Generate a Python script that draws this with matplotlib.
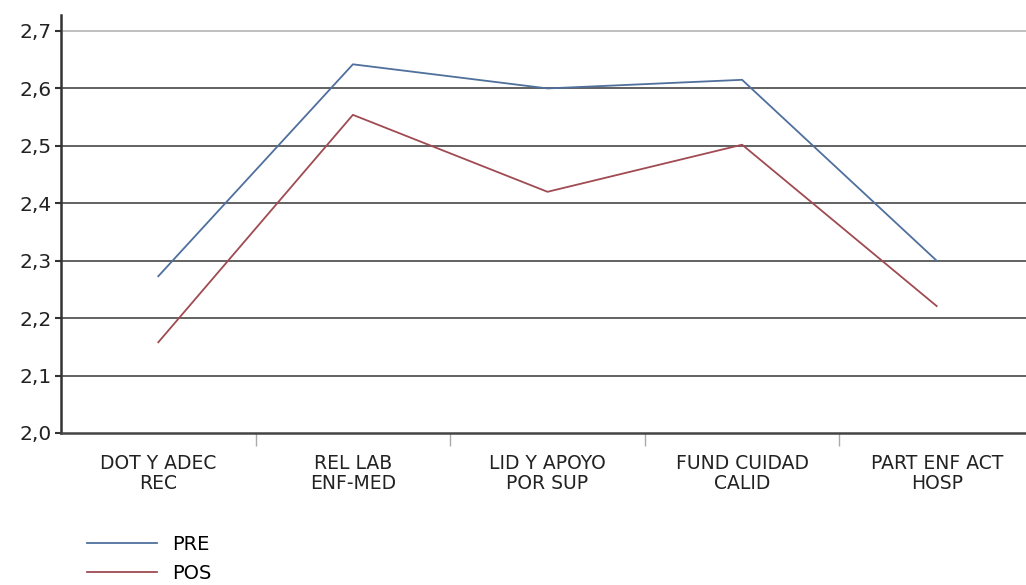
import numpy as np
import matplotlib.pyplot as plt

categorias = ["DOT Y ADEC\nREC", "REL LAB\nENF-MED", "LID Y APOYO\nPOR SUP",
              "FUND CUIDAD\nCALID", "PART ENF ACT\nHOSP"]
pre = [2.273, 2.642, 2.600, 2.615, 2.300]
pos = [2.158, 2.554, 2.420, 2.502, 2.221]
yticks = [2.0, 2.1, 2.2, 2.3, 2.4, 2.5, 2.6, 2.7]

plt.rcParams['font.family'] = ['DejaVu Sans']

fig = plt.figure(figsize=(10.26, 5.85), dpi=100)
ax = fig.add_axes([61/1026, 1-433/585, (1034-61)/1026, (433-15)/585])

x = np.arange(len(categorias))
ax.plot(x, pre, color='#4f6f9c', lw=1.3, label='PRE', zorder=3)
ax.plot(x, pos, color='#a04a52', lw=1.3, label='POS', zorder=3)

ax.set_xlim(-0.5, len(categorias) - 0.5)
ax.set_ylim(2.0, 2.0 + 0.7 * 418 / 402)
ax.set_yticks(yticks)
ax.set_yticklabels([f"{v:.1f}".replace('.', ',') for v in yticks], fontsize=14.5, color='#222222')
for v in yticks[1:]:
    ax.axhline(v, color='#bbbbbb' if v == 2.7 else '#555555', lw=1.3, zorder=1)

ax.set_xticks(x)
ax.set_xticklabels(categorias, fontsize=13.5, color='#222222', linespacing=1.05)
ax.set_xticks(np.arange(0.5, len(categorias) - 0.5), minor=True)
ax.tick_params(axis='x', which='major', length=0, pad=15)
ax.tick_params(axis='x', which='minor', length=9, color='#aaaaaa', width=1, direction='out')
ax.tick_params(axis='y', length=4, width=1.5, color='#333333', pad=3)

for s in ['top', 'right']:
    ax.spines[s].set_visible(False)
ax.spines['left'].set_color('#333333')
ax.spines['left'].set_linewidth(1.8)
ax.spines['bottom'].set_color('#444444')
ax.spines['bottom'].set_linewidth(1.8)

fig.legend(loc='upper left', bbox_to_anchor=(69/1026, 1-517/585), frameon=False,
           fontsize=14, handlelength=3.6, handletextpad=0.8, labelspacing=0.55)

fig.savefig('out.png', dpi=100)
